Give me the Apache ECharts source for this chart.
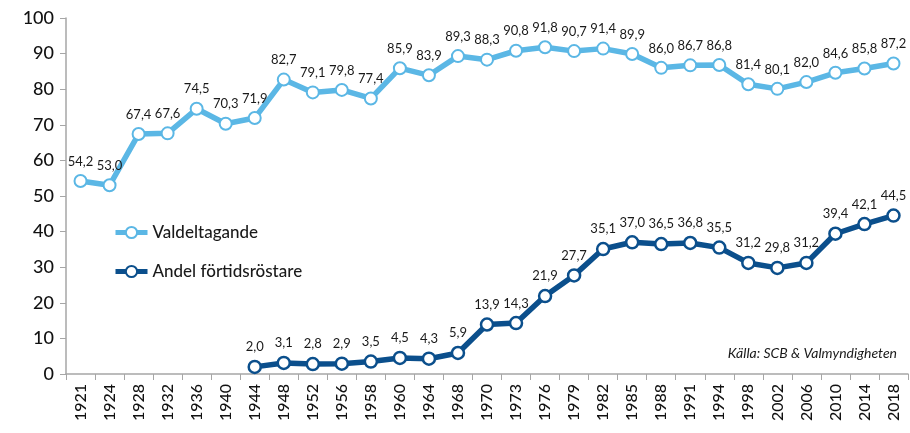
<!DOCTYPE html>
<html>
<head>
<meta charset="utf-8">
<script src="https://cdn.jsdelivr.net/npm/echarts@6/dist/echarts.min.js"></script>
<style>
  html, body { margin: 0; padding: 0; background: #fff; }
  #main { width: 910px; height: 433px; }
</style>
</head>
<body>
<div id="main"></div>
<script>
var years = ["1921", "1924", "1928", "1932", "1936", "1940", "1944", "1948", "1952", "1956",
  "1958", "1960", "1964", "1968", "1970", "1973", "1976", "1979", "1982", "1985",
  "1988", "1991", "1994", "1998", "2002", "2006", "2010", "2014", "2018"];

var valdeltagande = [54.2, 53.0, 67.4, 67.6, 74.5, 70.3, 71.9, 82.7, 79.1, 79.8,
  77.4, 85.9, 83.9, 89.3, 88.3, 90.8, 91.8, 90.7, 91.4, 89.9,
  86.0, 86.7, 86.8, 81.4, 80.1, 82.0, 84.6, 85.8, 87.2];

// förtidsröstning finns från 1944
var fortidsrostare = [null, null, null, null, null, null, 2.0, 3.1, 2.8, 2.9,
  3.5, 4.5, 4.3, 5.9, 13.9, 14.3, 21.9, 27.7, 35.1, 37.0,
  36.5, 36.8, 35.5, 31.2, 29.8, 31.2, 39.4, 42.1, 44.5];

var yTicks = [0, 10, 20, 30, 40, 50, 60, 70, 80, 90, 100];

var font = "Lato, 'Liberation Sans', sans-serif";
var ljusbla = "#5bb7e5";
var morkbla = "#0b4f8c";

function kommaFormat(p) {
  return p.value == null ? "" : p.value.toFixed(1).replace(".", ",");
}

var chart = echarts.init(document.getElementById("main"));

var option = {
  animation: false,
  textStyle: { fontFamily: font },
  grid: { left: 66, right: 2, top: 18, bottom: 59, containLabel: false },
  legend: {
    orient: "vertical",
    left: 108,
    top: 219,
    itemGap: 22,
    itemWidth: 32,
    itemHeight: 14,
    textStyle: { fontSize: 17, color: "#1a1a1a", fontFamily: font, fontWeight: 500 },
    data: [
      { name: "Valdeltagande", lineStyle: { width: 5, color: ljusbla } },
      { name: "Andel förtidsröstare", lineStyle: { width: 5, color: morkbla } }
    ]
  },
  xAxis: {
    type: "category",
    data: years,
    boundaryGap: true,
    axisLine: { lineStyle: { color: "#a6a6a6", width: 1.5 } },
    axisTick: { show: true, length: 6, lineStyle: { color: "#a6a6a6" } },
    axisLabel: { rotate: 90, fontSize: 16, color: "#111", margin: 10, interval: 0, fontFamily: font, fontWeight: 500 }
  },
  yAxis: {
    type: "value",
    min: 0,
    max: 100,
    interval: 10,
    splitLine: { show: false },
    axisLine: { show: true, lineStyle: { color: "#a6a6a6", width: 1.5 } },
    axisTick: { show: true, length: 6, lineStyle: { color: "#a6a6a6" } },
    axisLabel: {
      fontSize: 18, color: "#111", margin: 12, fontFamily: font, fontWeight: 500,
      formatter: function (v) { return yTicks.indexOf(v) >= 0 ? String(v) : ""; }
    }
  },
  series: [
    {
      name: "Valdeltagande",
      type: "line",
      data: valdeltagande,
      symbol: "circle",
      symbolSize: 12,
      lineStyle: { color: ljusbla, width: 5.5 },
      itemStyle: { color: "#ffffff", borderColor: ljusbla, borderWidth: 2 },
      label: { show: true, position: "top", distance: 6, fontSize: 13, color: "#1a1a1a", formatter: kommaFormat, fontFamily: font },
      z: 3
    },
    {
      name: "Andel förtidsröstare",
      type: "line",
      data: fortidsrostare,
      connectNulls: false,
      symbol: "circle",
      symbolSize: 12,
      lineStyle: { color: morkbla, width: 5.5 },
      itemStyle: { color: "#ffffff", borderColor: morkbla, borderWidth: 2.5 },
      label: { show: true, position: "top", distance: 6, fontSize: 13, color: "#1a1a1a", formatter: kommaFormat, fontFamily: font },
      z: 3
    }
  ],
  graphic: [
    {
      type: "text",
      right: 13,
      top: 346,
      style: {
        text: "Källa: SCB & Valmyndigheten",
        fontSize: 14,
        fontStyle: "italic",
        fill: "#1a1a1a",
        fontFamily: font
      }
    }
  ]
};

chart.setOption(option);
</script>
</body>
</html>
